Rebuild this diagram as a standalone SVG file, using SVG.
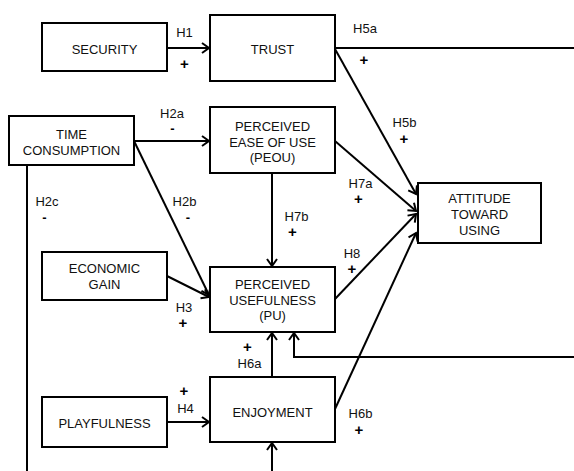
<svg xmlns="http://www.w3.org/2000/svg" width="574" height="471" viewBox="0 0 574 471">
<style>
.box{fill:#fff;stroke:#000;stroke-width:2}
.t{font-family:"Liberation Sans",Arial,sans-serif;font-size:13px;fill:#111;text-anchor:middle}
.l{font-family:"Liberation Sans",Arial,sans-serif;font-size:13px;fill:#111;text-anchor:middle}
.s{font-family:"Liberation Sans",Arial,sans-serif;font-size:15px;font-weight:bold;fill:#000;text-anchor:middle}
.m{font-family:"Liberation Sans",Arial,sans-serif;font-size:13px;font-weight:bold;fill:#000;text-anchor:middle}
.c{fill:none;stroke:#000;stroke-width:2}
</style>
<defs>
<marker id="ah" markerUnits="userSpaceOnUse" markerWidth="12" markerHeight="12" refX="9" refY="5" orient="auto" overflow="visible">
<path d="M2,0 L9,5 L2,10" fill="none" stroke="#000" stroke-width="2"/>
</marker>
</defs>
<rect width="574" height="471" fill="#fff"/>
<g id="connectors">
<line class="c" x1="167" y1="48" x2="209" y2="48" marker-end="url(#ah)"/>
<line class="c" x1="335" y1="48" x2="574" y2="48"/>
<line class="c" x1="335" y1="49" x2="416" y2="194" marker-end="url(#ah)"/>
<line class="c" x1="134" y1="141" x2="209" y2="141" marker-end="url(#ah)"/>
<line class="c" x1="134" y1="141" x2="209" y2="295" marker-end="url(#ah)"/>
<line class="c" x1="27" y1="165" x2="27" y2="471"/>
<line class="c" x1="167" y1="276" x2="209" y2="297" marker-end="url(#ah)"/>
<line class="c" x1="272" y1="173" x2="272" y2="266" marker-end="url(#ah)"/>
<line class="c" x1="335" y1="141" x2="416" y2="211" marker-end="url(#ah)"/>
<line class="c" x1="335" y1="299" x2="416" y2="214" marker-end="url(#ah)"/>
<line class="c" x1="335" y1="409" x2="416" y2="233" marker-end="url(#ah)"/>
<line class="c" x1="272" y1="377" x2="272" y2="333" marker-end="url(#ah)"/>
<polyline class="c" points="574,357 294,357 294,333" marker-end="url(#ah)"/>
<line class="c" x1="167" y1="422" x2="209" y2="422" marker-end="url(#ah)"/>
<line class="c" x1="272" y1="471" x2="272" y2="443" marker-end="url(#ah)"/>
</g>
<g id="security"><rect class="box" x="42" y="23" width="125" height="48"/><text class="t" x="104.5" y="54">SECURITY</text></g>
<g id="trust"><rect class="box" x="210" y="15" width="125" height="66"/><text class="t" x="272.5" y="54">TRUST</text></g>
<g id="time"><rect class="box" x="9" y="116" width="125" height="49"/><text class="t" x="71.5" y="139">TIME</text><text class="t" x="71.5" y="155">CONSUMPTION</text></g>
<g id="peou"><rect class="box" x="210" y="107" width="125" height="66"/><text class="t" x="272.5" y="131">PERCEIVED</text><text class="t" x="272.5" y="147">EASE OF USE</text><text class="t" x="272.5" y="162">(PEOU)</text></g>
<g id="economic"><rect class="box" x="42" y="252" width="125" height="48"/><text class="t" x="104.5" y="273">ECONOMIC</text><text class="t" x="104.5" y="289">GAIN</text></g>
<g id="pu"><rect class="box" x="210" y="267" width="125" height="65"/><text class="t" x="272.5" y="289">PERCEIVED</text><text class="t" x="272.5" y="305">USEFULNESS</text><text class="t" x="272.5" y="320">(PU)</text></g>
<g id="attitude"><rect class="box" x="418" y="183" width="123" height="60"/><text class="t" x="479.5" y="203">ATTITUDE</text><text class="t" x="479.5" y="219">TOWARD</text><text class="t" x="479.5" y="235">USING</text></g>
<g id="enjoyment"><rect class="box" x="210" y="377" width="125" height="65"/><text class="t" x="272.5" y="417">ENJOYMENT</text></g>
<g id="playfulness"><rect class="box" x="42" y="397" width="125" height="50"/><text class="t" x="104.5" y="428">PLAYFULNESS</text></g>
<g id="labels">
<text class="l" x="184.5" y="37">H1</text><text class="s" x="184.5" y="69">+</text>
<text class="l" x="365" y="33">H5a</text><text class="s" x="364" y="65">+</text>
<text class="l" x="404.5" y="127">H5b</text><text class="s" x="404" y="144">+</text>
<text class="l" x="172" y="118">H2a</text><text class="m" x="172.5" y="133">-</text>
<text class="l" x="47" y="206">H2c</text><text class="m" x="44.5" y="222">-</text>
<text class="l" x="184.5" y="206">H2b</text><text class="m" x="188" y="222">-</text>
<text class="l" x="296.5" y="221">H7b</text><text class="s" x="292.5" y="237">+</text>
<text class="l" x="360.5" y="188">H7a</text><text class="s" x="358.5" y="204">+</text>
<text class="l" x="352" y="258">H8</text><text class="s" x="352" y="274">+</text>
<text class="l" x="184" y="312">H3</text><text class="s" x="183" y="328">+</text>
<text class="s" x="247.5" y="352">+</text><text class="l" x="249.5" y="368">H6a</text>
<text class="s" x="184" y="396">+</text><text class="l" x="185.5" y="413">H4</text>
<text class="l" x="360.5" y="418">H6b</text><text class="s" x="359" y="435">+</text>
</g>
</svg>
